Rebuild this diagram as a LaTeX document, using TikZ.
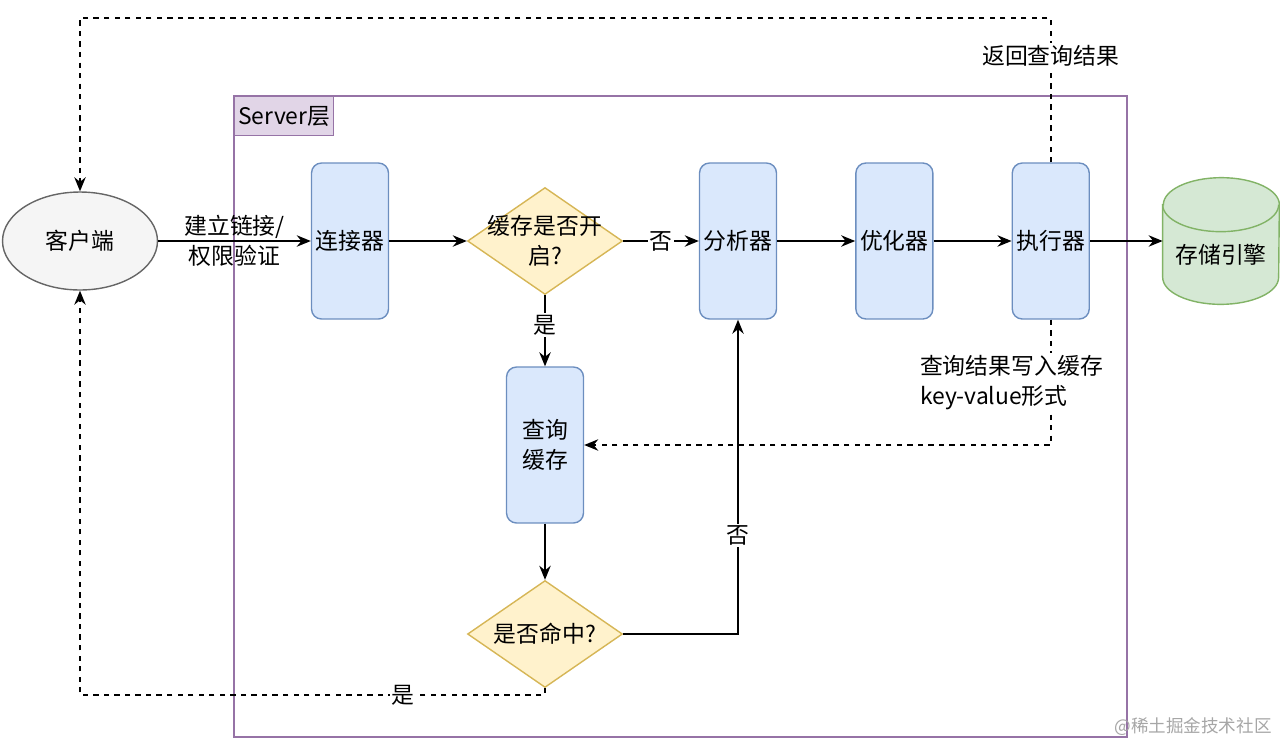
\documentclass[tikz,border=0pt]{standalone}
\usepackage{fontspec}
\setmainfont{Noto Sans CJK SC}
\usetikzlibrary{positioning, shapes.geometric, arrows.meta}

\definecolor{procfill}{HTML}{DAE8FC}
\definecolor{procline}{HTML}{6C8EBF}
\definecolor{decfill}{HTML}{FFF2CC}
\definecolor{decline}{HTML}{D6B656}
\definecolor{storefill}{HTML}{D5E8D4}
\definecolor{storeline}{HTML}{82B366}
\definecolor{clifill}{HTML}{F5F5F5}
\definecolor{cliline}{HTML}{666666}
\definecolor{layerfill}{HTML}{E1D5E7}
\definecolor{layerline}{HTML}{9673A6}

\begin{document}
\begin{tikzpicture}[x=0.02cm, y=-0.02cm,
    font=\fontsize{13}{17}\selectfont,
    flow/.style={-{Stealth[length=8pt,width=6.5pt]}, line width=0.9pt},
    back/.style={flow, dashed},
    proc/.style={draw=procline, fill=procfill, rounded corners=0.2cm, align=center,
      inner xsep=1pt, minimum width=1.54cm, minimum height=3.12cm, line width=0.8pt},
    decide/.style={diamond, draw=decline, fill=decfill, minimum width=3.1cm,
      minimum height=2.14cm, inner sep=0pt, line width=0.8pt},
    tag/.style={fill=white, inner sep=1pt}]

    \useasboundingbox (0,0) rectangle (1280,748);

    % Server layer frame
    \draw[layerline, line width=0.8pt] (234,96) rectangle (1127,737);
    \node[draw=layerline, fill=layerfill, line width=0.8pt, anchor=north west,
      minimum height=0.78cm, inner xsep=2pt] (layer) at (234,96) {Server层};

    % Client and processing nodes
    \node[ellipse, draw=cliline, fill=clifill, line width=0.8pt,
      minimum width=3.1cm, minimum height=1.96cm] (client) at (80,241) {客户端};
    \node[proc] (conn) at (350,241) {连接器};
    \node[decide, label={[align=center]center:{缓存是否开\\启?}}] (cache) at (545,241) {};
    \node[proc] (parse) at (738,241) {分析器};
    \node[proc, right=1.56cm of parse] (opt) {优化器};
    \node[proc, right=1.56cm of opt] (exec) {执行器};
    \node[proc] (query) at (545,445) {查询\\缓存};
    \node[decide, label={center:是否命中?}] (hit) at (545,634) {};

    % Storage engine cylinder
    \node[minimum width=2.32cm, minimum height=2.52cm, inner sep=0pt] (store) at (1221,241) {};
    \draw[storeline, fill=storefill, line width=0.8pt]
      ([yshift=-0.54cm]store.north west) -- ([yshift=0.54cm]store.south west)
      arc (180:360:1.16cm and 0.54cm) -- ([yshift=-0.54cm]store.north east)
      arc (0:180:1.16cm and 0.54cm) -- cycle;
    \draw[storeline, line width=0.8pt]
      ([yshift=-0.54cm]store.north west) arc (180:360:1.16cm and 0.54cm);
    \node at (1221,255) {存储引擎};

    % Main flow
    \draw[flow] (client) -- node[align=center] {建立链接/\\权限验证} (conn);
    \draw[flow] (conn) -- (cache);
    \draw[flow] (cache) -- node[tag] {否} (parse);
    \draw[flow] (parse) -- (opt);
    \draw[flow] (opt) -- (exec);
    \draw[flow] (exec) -- (store);
    \draw[flow] (cache) -- node[tag, pos=0.42] {是} (query);
    \draw[flow] (query) -- (hit);
    \draw[flow] (hit.east) -| node[tag, pos=0.657] {否} (parse.south);

    % Dashed returns
    \coordinate (topright) at (exec.north |- 0,18);
    \coordinate (topleft) at (client.north |- 0,18);
    \draw[back] (exec.north) -- node[tag, pos=0.74] {返回查询结果} (topright) -- (topleft) -- (client.north);
    \coordinate (midright) at (exec.south |- query.east);
    \draw[back] (exec.south) -- (midright) -- (query.east);
    \node[tag, align=left, anchor=north west] at (918,353) {查询结果写入缓存\\key-value形式};
    \coordinate (lowright) at (hit.south |- 0,695);
    \coordinate (lowleft) at (client.south |- 0,695);
    \draw[back] (hit.south) -- (lowright) -- node[tag, pos=0.305] {是} (lowleft) -- (client.south);

    % Watermark
    \node[text=black!35, font=\fontsize{10}{12}\selectfont] (mark) at (1193,727) {@稀土掘金技术社区};

  \end{tikzpicture}
\end{document}
